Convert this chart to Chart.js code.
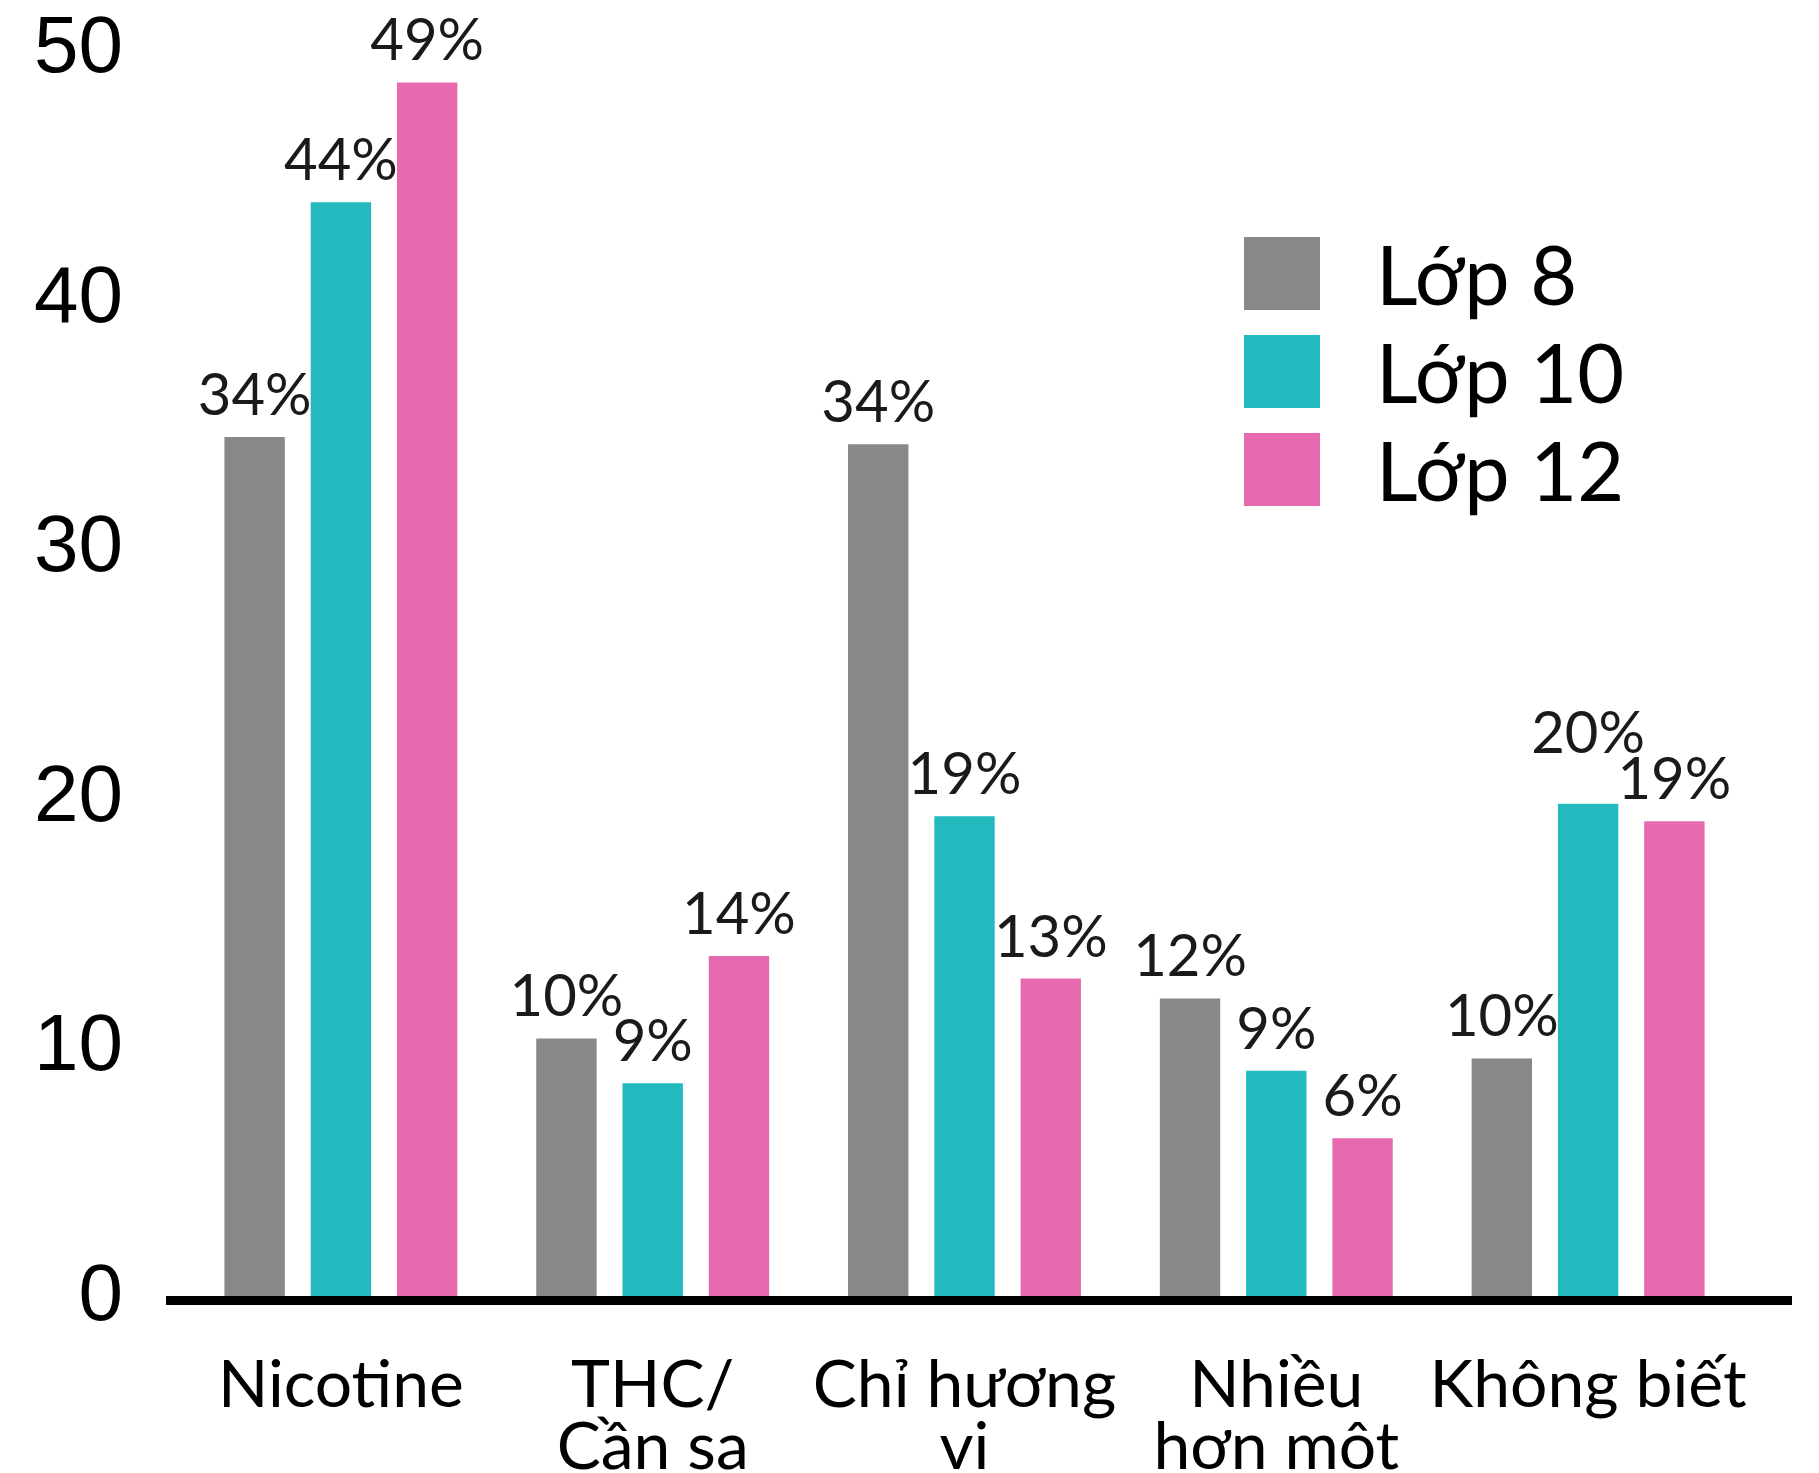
<!DOCTYPE html>
<html>
<head>
<meta charset="utf-8">
<script src="https://cdn.jsdelivr.net/npm/chart.js@4.4.1/dist/chart.umd.min.js"></script>
<style>
  body { margin: 0; background: #fff; }
  #wrap { position: relative; width: 1819px; height: 1473px; overflow: hidden; }
  #myChart { position: absolute; left: 0; top: -60px; }
  #legend { position: absolute; left: 1244px; top: 237px; font-family: Lato, sans-serif; }
  .item { display: flex; align-items: center; height: 73px; margin-bottom: 25px; }
  .box { width: 76px; height: 73px; margin-right: 56px; }
  .txt { font-size: 81px; color: #000; line-height: 1; }
</style>
</head>
<body>
<div id="wrap">
  <canvas id="myChart" width="1819" height="1533"></canvas>
  <div id="legend"></div>
</div>
<script>
var categories = [["Nicotine"], ["THC/", "Cần sa"], ["Chỉ hương", "vị"], ["Nhiều", "hơn một"], ["Không biết"]];
var seriesNames = ["Lớp 8", "Lớp 10", "Lớp 12"];
var lop8 = [34.5, 10.4, 34.2, 12.0, 9.6];
var lop10 = [43.9, 8.6, 19.3, 9.1, 19.8];
var lop12 = [48.7, 13.7, 12.8, 6.4, 19.1];
var lop8Text = ["34%", "10%", "34%", "12%", "10%"];
var lop10Text = ["44%", "9%", "19%", "9%", "20%"];
var lop12Text = ["49%", "14%", "13%", "6%", "19%"];
var yMin = 0, yMax = 50, yStep = 10;

var colors = ['#888888', '#24B8BF', '#E76AB1'];
var valueTexts = [lop8Text, lop10Text, lop12Text];

// labels above the bars; when two neighbours collide the taller one goes up
var barLabels = {
    id: 'barLabels',
    afterDatasetsDraw: function (chart) {
        var ctx = chart.ctx;
        var gap = 22, textH = 42;
        ctx.save();
        ctx.font = '58px Lato';
        ctx.fillStyle = '#1a1a1a';
        ctx.textAlign = 'center';
        ctx.textBaseline = 'alphabetic';
        var n = chart.data.labels.length;
        for (var j = 0; j < n; j++) {
            var items = [];
            chart.data.datasets.forEach(function (ds, i) {
                var bar = chart.getDatasetMeta(i).data[j];
                var t = valueTexts[i][j];
                items.push({ t: t, x: bar.x, y: bar.y - gap, w: ctx.measureText(t).width });
            });
            for (var k = 1; k < items.length; k++) {
                var a = items[k - 1], b = items[k];
                var hOver = (a.x + a.w / 2) - (b.x - b.w / 2);
                var vOver = Math.abs(a.y - b.y) < textH;
                if (hOver > 0 && vOver) {
                    if (a.y < b.y) a.y = b.y - textH - 4;
                    else b.y = a.y - textH - 4;
                }
            }
            items.forEach(function (it) { ctx.fillText(it.t, it.x, it.y); });
        }
        ctx.restore();
    }
};

// thick base line
var baseLine = {
    id: 'baseLine',
    afterDatasetsDraw: function (chart) {
        var a = chart.chartArea;
        var ctx = chart.ctx;
        ctx.save();
        ctx.fillStyle = '#000';
        ctx.fillRect(a.left - 19, a.bottom - 2, a.right - a.left + 67, 9);
        ctx.restore();
    }
};

var ctx = document.getElementById('myChart').getContext('2d');
var chart = new Chart(ctx, {
    type: 'bar',
    data: {
        labels: categories,
        datasets: [
            { label: seriesNames[0], data: lop8, backgroundColor: colors[0] },
            { label: seriesNames[1], data: lop10, backgroundColor: colors[1] },
            { label: seriesNames[2], data: lop12, backgroundColor: colors[2] }
        ]
    },
    options: {
        responsive: false,
        animation: false,
        devicePixelRatio: 1,
        categoryPercentage: 0.83,
        barPercentage: 0.70,
        layout: { padding: { top: 0, right: 75, left: 0, bottom: 0 } },
        plugins: {
            legend: { display: false },
            tooltip: { enabled: false }
        },
        scales: {
            x: {
                grid: { display: false, drawTicks: false },
                border: { display: false },
                ticks: {
                    font: { family: 'Lato', size: 66, lineHeight: 0.95 },
                    color: '#000',
                    padding: 56,
                    maxRotation: 0,
                    autoSkip: false
                },
                afterFit: function (scale) { scale.height = 175; }
            },
            y: {
                min: yMin,
                max: yMax,
                grid: { display: false, drawTicks: false },
                border: { display: false },
                ticks: {
                    stepSize: yStep,
                    font: { family: 'Liberation Sans', size: 80 },
                    color: '#000',
                    padding: 62
                },
                afterFit: function (scale) { scale.width = 185; }
            }
        }
    },
    plugins: [barLabels, baseLine]
});

var legend = document.getElementById('legend');
chart.data.datasets.forEach(function (ds) {
    var item = document.createElement('div');
    item.className = 'item';
    item.innerHTML = '<div class="box" style="background:' + ds.backgroundColor + '"></div><span class="txt">' + ds.label + '</span>';
    legend.appendChild(item);
});
</script>
</body>
</html>
